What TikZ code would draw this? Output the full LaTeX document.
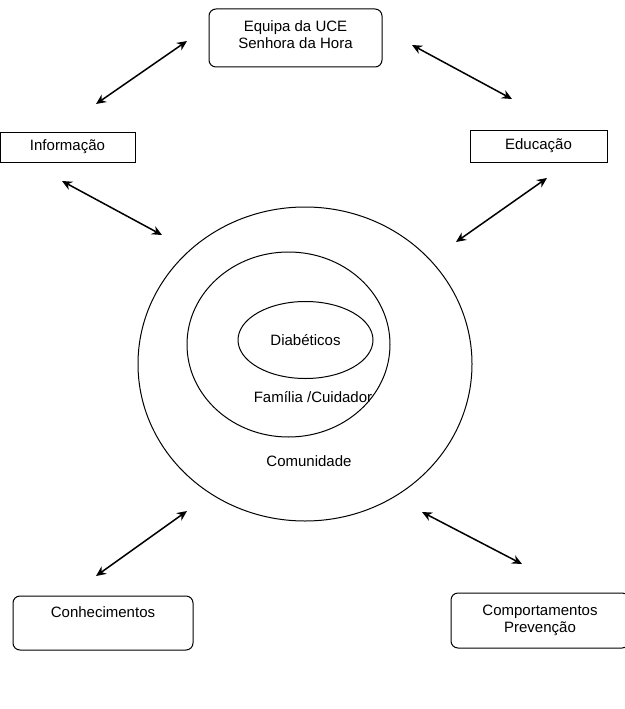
\documentclass[tikz,border=0pt]{standalone}
\usepackage{fontspec}
\setmainfont{Liberation Sans}
\usetikzlibrary{arrows.meta,shapes.geometric}
\tikzset{
  box/.style={draw,rounded corners=7pt,align=center,line width=1pt,
    font=\fontsize{15}{17.5}\selectfont},
  flatbox/.style={draw,align=center,line width=1pt,
    font=\fontsize{15}{17.5}\selectfont},
  ring/.style={draw,ellipse,inner sep=0pt,line width=1pt,
    font=\fontsize{15}{17.5}\selectfont},
  word/.style={font=\fontsize{15}{17.5}\selectfont},
  link/.style={{Stealth[length=10pt,width=9pt]}-{Stealth[length=10pt,width=9pt]},
    line width=1.5pt},
}
\begin{document}
\begin{tikzpicture}[x=1pt,y=-1pt]
  \useasboundingbox (0,0) rectangle (624,709);

  % outer boxes
  \node[box,minimum width=173pt,minimum height=58pt,text depth=7pt] (uce) at (295.5,38)
    {Equipa da UCE\\Senhora da Hora};
  \node[flatbox,minimum width=135pt,minimum height=30pt] (info) at (67.5,147) {Informação};
  \node[flatbox,minimum width=137pt,minimum height=32pt] (educ) at (538.5,146) {Educação};
  \node[box,minimum width=180pt,minimum height=54pt,text depth=22pt] (conh) at (103,623)
    {Conhecimentos};
  \node[box,minimum width=178pt,minimum height=55pt] (comp) at (540,620.5)
    {Comportamentos\\Prevenção};

  % nested circles
  \node[ring,minimum width=334pt,minimum height=314pt] (comun) at (305,364) {};
  \node[ring,minimum width=203pt,minimum height=185pt] (famil) at (288.5,344.5) {};
  \node[ring,minimum width=135pt,minimum height=77pt] (diab) at (305.5,340) {Diabéticos};
  \node[word] (familtxt) at (313,397) {Família /Cuidador};
  \node[word] (comuntxt) at (309,461) {Comunidade};

  % arrow ends
  \coordinate (a1) at (96,104);   \coordinate (b1) at (187,41);
  \coordinate (a2) at (412,45);   \coordinate (b2) at (512,99);
  \coordinate (a3) at (62,181);   \coordinate (b3) at (162,235);
  \coordinate (a4) at (456,242);  \coordinate (b4) at (547,178);
  \coordinate (a5) at (96,576);   \coordinate (b5) at (187,511);
  \coordinate (a6) at (422,512);  \coordinate (b6) at (522,564);

  \draw[link] (a1) -- (b1);
  \draw[link] (a2) -- (b2);
  \draw[link] (a3) -- (b3);
  \draw[link] (a4) -- (b4);
  \draw[link] (a5) -- (b5);
  \draw[link] (a6) -- (b6);
\end{tikzpicture}
\end{document}
